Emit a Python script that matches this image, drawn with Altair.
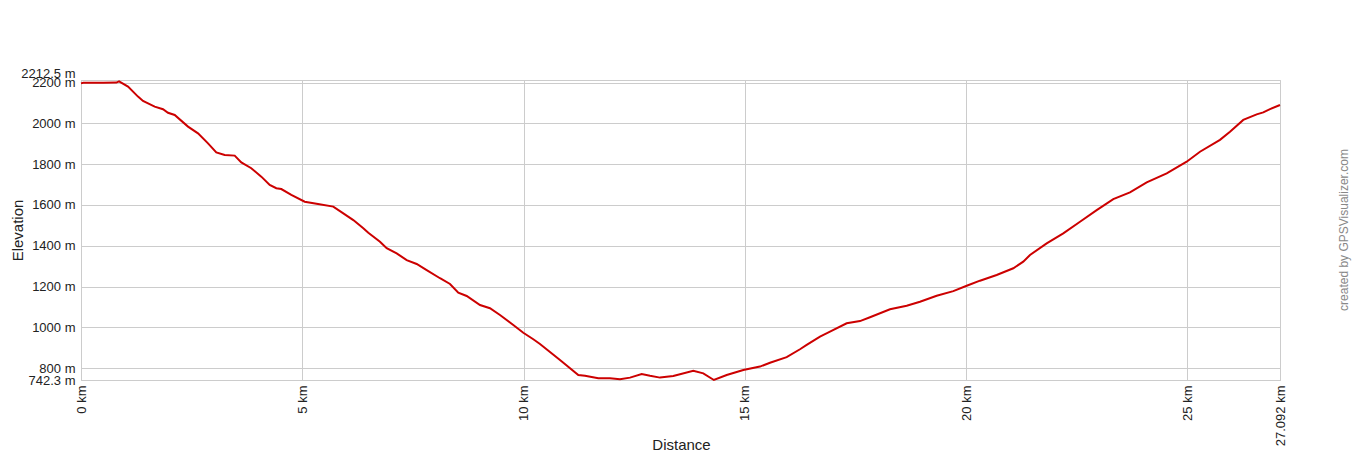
import altair as alt
import pandas as pd

dist_km = [0.0, 0.05, 0.5, 0.80, 0.86, 1.062, 1.288, 1.401, 1.665, 1.853, 1.966, 2.117,
           2.418, 2.644, 2.870, 3.057, 3.247, 3.473, 3.622, 3.848, 4.074, 4.264, 4.413,
           4.526, 4.752, 5.055, 5.355, 5.701, 5.927, 6.153, 6.379, 6.492, 6.756, 6.907,
           7.133, 7.359, 7.585, 7.811, 8.112, 8.338, 8.525, 8.715, 9.016, 9.241, 9.467,
           9.768, 9.994, 10.220, 10.371, 10.823, 11.237, 11.388, 11.689, 11.953, 12.179,
           12.405, 12.669, 12.857, 13.083, 13.383, 13.835, 14.061, 14.30, 14.590, 14.965,
           15.342, 15.568, 15.945, 16.246, 16.397, 16.698, 16.924, 17.301, 17.602, 17.828,
           18.280, 18.657, 18.957, 19.335, 19.710, 20.013, 20.313, 20.690, 21.066, 21.291,
           21.443, 21.820, 22.195, 22.573, 22.950, 23.325, 23.702, 24.080, 24.532, 24.983,
           25.284, 25.736, 25.962, 26.262, 26.565, 26.714, 26.866, 27.092]
elev_m = [2196, 2199, 2199, 2200, 2206, 2180, 2131, 2110, 2082, 2069, 2052, 2041,
          1984, 1951, 1902, 1858, 1845, 1842, 1809, 1780, 1739, 1698, 1682,
          1678, 1649, 1616, 1605, 1592, 1559, 1526, 1486, 1464, 1420, 1388,
          1363, 1330, 1311, 1281, 1241, 1213, 1170, 1154, 1110, 1094, 1061,
          1012, 974, 942, 919, 840, 767, 763, 751, 751, 746,
          754, 772, 763, 754, 762, 788, 775, 742.3, 767, 791,
          808, 827, 854, 893, 914, 955, 979, 1020, 1031, 1050,
          1089, 1106, 1126, 1155, 1178, 1204, 1229, 1257, 1290, 1322,
          1355, 1412, 1461, 1518, 1575, 1629, 1662, 1711, 1755, 1812,
          1861, 1919, 1959, 2017, 2044, 2054, 2070, 2090]

x_ticks = [0, 5, 10, 15, 20, 25, 27.092]
y_ticks = [742.3, 800, 1000, 1200, 1400, 1600, 1800, 2000, 2200, 2212.5]

df = pd.DataFrame({"dist": dist_km, "elev": elev_m})

FONT = "Arial, Liberation Sans, sans-serif"

chart = alt.Chart(df).mark_line(color="#cc0000", strokeWidth=2).encode(
    x=alt.X(
        "dist:Q",
        scale=alt.Scale(domain=[0, 27.092], nice=False, zero=False),
        axis=alt.Axis(
            title="Distance", values=x_ticks, labelExpr="datum.value + ' km'",
            labelAngle=270, labelAlign="right", labelBaseline="middle",
            labelPadding=5, ticks=False, domain=False, grid=True,
            labelOverlap=False, labelFlush=False,
            titleX=600, titleY=64, titleBaseline="middle", titleAlign="center",
            titleAngle=0,
        ),
    ),
    y=alt.Y(
        "elev:Q",
        scale=alt.Scale(domain=[742.3, 2212.5], nice=False, zero=False),
        axis=alt.Axis(
            title="Elevation", values=y_ticks, labelExpr="datum.value + ' m'",
            labelPadding=6, ticks=False, domain=False, grid=True,
            labelOverlap=False, labelFlush=False,
            labelBaseline={"condition": {"test": "datum.value == 2212.5", "value": "bottom"},
                           "value": "middle"},
            titleX=-64, titleY=150, titleAngle=270, titleBaseline="middle",
            titleAlign="center",
        ),
    ),
).properties(
    width=1199,
    height=300,
    padding={"left": 73, "top": 72, "right": 72, "bottom": 72},
    autosize=alt.AutoSizeParams(type="none"),
    background="white",
    title=alt.TitleParams(
        "created by GPSVisualizer.com", orient="right", anchor="middle",
        angle=270, fontSize=12, fontWeight="normal", color="#888888",
        font=FONT, offset=45, baseline="middle",
    ),
).configure_axis(
    labelFont=FONT, labelFontSize=13, labelColor="#222222",
    titleFont=FONT, titleFontSize=15, titleFontWeight="normal", titleColor="#222222",
    gridColor="#cccccc", gridWidth=1,
).configure_view(
    stroke="#c8c8c8", strokeWidth=1,
)

chart.save("out.html", embed_options={"renderer": "svg", "actions": False})
